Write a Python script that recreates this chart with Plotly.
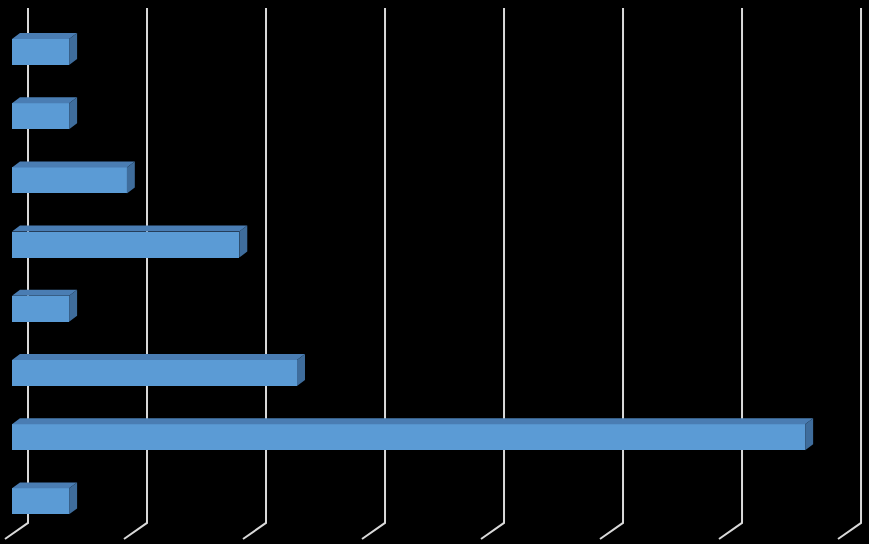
"""Horizontal 3-D style bar chart on black (Excel look), redrawn with plotly."""
import plotly.graph_objects as go

# data (no labels are visible in the picture; values read in gridline units)
categories = ["1", "2", "3", "4", "5", "6", "7", "8"]
values = [0.96, 0.96, 1.93, 3.82, 0.96, 4.79, 13.33, 0.96]
grid_ticks = [0, 2, 4, 6, 8, 10, 12, 14]

_BG = "#000000"
_FRONT = "#5b9bd5"
_TOP = "#4a7db3"
_SIDE = "#3f6d9c"
_GRID = "#d9d9d9"

_BAR_W = 0.405           # bar thickness, category units
_DX, _DY = 0.134, 0.093  # bar depth offset (x units, category units)
_WALL_DX = 0.269         # back wall offset from bar front plane
_FLOOR_DX = -0.118       # front floor edge offset
_WALL_TOP, _WALL_BOT, _FLOOR_Y = -0.685, 7.336, 7.586

pos = list(range(len(categories)))

fig = go.Figure()

# front faces
fig.add_trace(go.Bar(
    x=values, y=pos, orientation="h", width=_BAR_W, base=0,
    marker=dict(color=_FRONT, line=dict(width=0)),
    hoverinfo="skip", showlegend=False,
))

# top and side faces as filled polygons
tx, ty, sx, sy = [], [], [], []
for i, v in zip(pos, values):
    top, bot = i - _BAR_W / 2, i + _BAR_W / 2
    tx += [0, v, v + _DX, _DX, 0, None]
    ty += [top, top, top - _DY, top - _DY, top, None]
    sx += [v, v, v + _DX, v + _DX, v, None]
    sy += [top, bot, bot - _DY, top - _DY, top, None]
fig.add_trace(go.Scatter(x=tx, y=ty, mode="lines", fill="toself",
                         fillcolor=_TOP, line=dict(width=0, color=_TOP),
                         hoverinfo="skip", showlegend=False))
fig.add_trace(go.Scatter(x=sx, y=sy, mode="lines", fill="toself",
                         fillcolor=_SIDE, line=dict(width=0, color=_SIDE),
                         hoverinfo="skip", showlegend=False))

# back wall gridlines with their floor diagonals, behind the bars
shapes = []
for t in grid_ticks:
    xb, xf = t + _WALL_DX, t + _FLOOR_DX
    shapes.append(dict(
        type="path", layer="below", xref="x", yref="y",
        path=f"M {xb},{_WALL_TOP} L {xb},{_WALL_BOT} L {xf},{_FLOOR_Y}",
        line=dict(color=_GRID, width=2),
    ))

fig.update_layout(
    width=869, height=544,
    margin=dict(l=0, r=0, t=0, b=0),
    paper_bgcolor=_BG, plot_bgcolor=_BG,
    shapes=shapes,
    bargap=0,
    xaxis=dict(range=[-0.2017, 14.403], showgrid=False, zeroline=False,
               showticklabels=False, fixedrange=True),
    yaxis=dict(range=[7.664, -0.81], showgrid=False, zeroline=False,
               showticklabels=False, fixedrange=True),
)

fig.write_html(
    "out.html",
    config={"displayModeBar": False},
    post_script="document.body.style.margin='0';"
                "document.body.style.background='#000';",
)
